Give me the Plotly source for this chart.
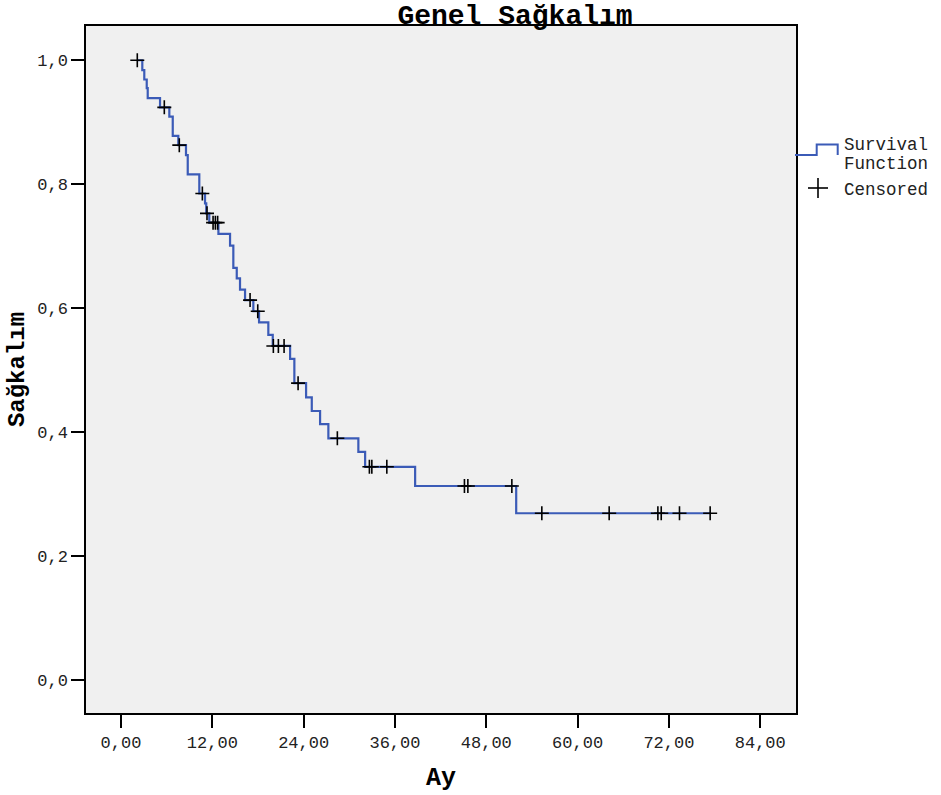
import plotly.graph_objects as go

# Kaplan-Meier step curve (time in months, survival)
step_times = [2.14, 2.80, 3.06, 3.38, 3.51, 5.13, 6.35, 6.80, 7.53, 8.54, 8.77, 10.29,
              11.04, 11.20, 11.60, 12.80, 14.33, 14.76, 15.21, 15.64, 16.30, 17.39,
              18.14, 19.36, 19.94, 22.22, 22.78, 24.32, 25.07, 26.16, 27.25, 31.19,
              32.08, 38.65, 51.93, 77.42]
step_surv = [1.000, 0.984, 0.969, 0.955, 0.939, 0.924, 0.909, 0.878, 0.863, 0.847, 0.816, 0.785,
             0.769, 0.753, 0.738, 0.720, 0.701, 0.665, 0.648, 0.630, 0.613, 0.595,
             0.577, 0.557, 0.539, 0.518, 0.479, 0.456, 0.434, 0.413, 0.390, 0.368,
             0.344, 0.313, 0.269, 0.269]

# Censored observations
cens_times = [2.14, 5.69, 7.66, 10.69, 11.30, 12.10, 12.40, 12.70, 16.96, 17.97, 20.02,
              20.68, 21.43, 23.27, 28.43, 32.64, 32.96, 34.93, 45.13, 45.58, 51.36,
              55.30, 64.15, 70.55, 70.99, 73.39, 77.42]
cens_surv = [1.000, 0.924, 0.863, 0.785, 0.753, 0.738, 0.738, 0.738, 0.613, 0.595, 0.539,
             0.539, 0.539, 0.479, 0.390, 0.344, 0.344, 0.344, 0.313, 0.313, 0.313,
             0.269, 0.269, 0.269, 0.269, 0.269, 0.269]

x_tickvals = [0, 12, 24, 36, 48, 60, 72, 84]
x_ticktext = ["0,00", "12,00", "24,00", "36,00", "48,00", "60,00", "72,00", "84,00"]
y_tickvals = [0.0, 0.2, 0.4, 0.6, 0.8, 1.0]
y_ticktext = ["0,0", "0,2", "0,4", "0,6", "0,8", "1,0"]

title_text = "Genel Sağkalım"
x_title = "Ay"
y_title = "Sağkalım"
legend_lines = ["Survival", "Function", "Censored"]

BLUE = "#3B5BB7"
FONT = "Liberation Mono, Courier New, monospace"

fig = go.Figure()
fig.add_trace(go.Scatter(x=step_times, y=step_surv, mode="lines", line_shape="hv",
                         line=dict(color=BLUE, width=2.2), showlegend=False,
                         hoverinfo="skip"))
fig.add_trace(go.Scatter(x=cens_times, y=cens_surv, mode="markers",
                         marker=dict(symbol="cross-thin", size=10,
                                     line=dict(color="black", width=1.6)),
                         showlegend=False))

W, H = 941, 795
L, R, T, B = 86, 145, 26, 82
pw, ph = W - L - R, H - T - B

def px(x):
    return (x - L) / pw

def py(y):
    return (H - B - y) / ph

# custom legend
shapes = [
    dict(type="path", xref="paper", yref="paper",
         path=f"M {px(795)} {py(155)} L {px(816.7)} {py(155)} L {px(816.7)} {py(144.5)} "
              f"L {px(837.7)} {py(144.5)} L {px(837.7)} {py(155)}",
         line=dict(color=BLUE, width=2)),
    dict(type="line", xref="paper", yref="paper", x0=px(808), x1=px(828), y0=py(188), y1=py(188),
         line=dict(color="black", width=1.6)),
    dict(type="line", xref="paper", yref="paper", x0=px(818), x1=px(818), y0=py(178), y1=py(198),
         line=dict(color="black", width=1.6)),
]
legend_y = [145, 164, 190]
annotations = [
    dict(text=t, xref="paper", yref="paper", x=px(843), y=py(yy),
         xanchor="left", yanchor="middle", showarrow=False, align="left",
         borderpad=0,
         font=dict(family=FONT, size=17.5, color="#222"))
    for t, yy in zip(legend_lines, legend_y)
]

fig.update_layout(
    width=W, height=H,
    margin=dict(l=L, r=R, t=T, b=B),
    paper_bgcolor="white", plot_bgcolor="#F0F0F0",
    title=dict(text=f"<b>{title_text}</b>", xref="container", x=515 / W, xanchor="center",
               yref="container", y=1 - 14 / H, yanchor="middle",
               font=dict(family=FONT, size=28, color="black")),
    xaxis=dict(range=[-4.6, 88.7], tickvals=x_tickvals, ticktext=x_ticktext,
               showgrid=False, zeroline=False, showline=True, mirror=True,
               linecolor="black", linewidth=1.5, ticks="outside", ticklen=13,
               tickwidth=1.5, tickcolor="black", automargin=False,
               tickfont=dict(family=FONT, size=17, color="#222"),
               title=dict(text=f"<b>{x_title}</b>", standoff=15,
                          font=dict(family=FONT, size=25, color="black"))),
    yaxis=dict(range=[-0.0533, 1.0553], tickvals=y_tickvals, ticktext=y_ticktext,
               showgrid=False, zeroline=False, showline=True, mirror=True,
               linecolor="black", linewidth=1.5, ticks="outside", ticklen=13,
               tickwidth=1.5, tickcolor="black", automargin=False,
               tickfont=dict(family=FONT, size=17, color="#222"),
               title=dict(text=f"<b>{y_title}</b>", standoff=6,
                          font=dict(family=FONT, size=24, color="black"))),
    shapes=shapes, annotations=annotations,
)

fig.write_html("out.html", config={"displayModeBar": False},
               post_script="document.body.style.margin='0';document.body.style.overflow='hidden';")
